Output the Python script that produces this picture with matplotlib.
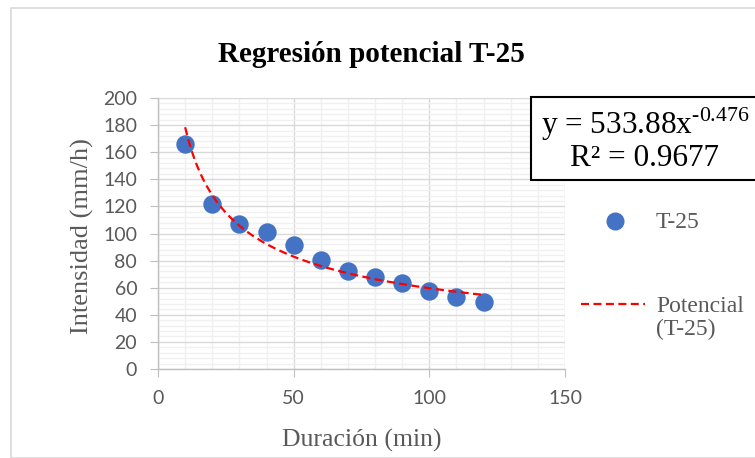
import numpy as np
import matplotlib
matplotlib.use("Agg")
import matplotlib.pyplot as plt
from matplotlib.patches import Rectangle
from matplotlib.lines import Line2D
from matplotlib.ticker import MultipleLocator

# data
duracion = [10, 20, 30, 40, 50, 60, 70, 80, 90, 100, 110, 120]
intensidad = [166.0, 121.8, 106.8, 100.8, 91.5, 80.2, 72.5, 68.1, 63.2, 57.8, 53.4, 49.4]
coef_a = 533.88
coef_b = -0.476
r2_text = "0.9677"
title = "Regresión potencial T-25"
xlabel = "Duración (min)"
ylabel = "Intensidad (mm/h)"
series_name = "T-25"
trend_name = "Potencial\n(T-25)"

plt.rcParams['mathtext.fontset'] = 'custom'
plt.rcParams['mathtext.rm'] = 'Liberation Serif'

W, H = 755, 458
fig = plt.figure(figsize=(W/100, H/100), dpi=100)

# outer chart border
fig.add_artist(Rectangle((11/W, 0), 1.0, 1 - 8/H, transform=fig.transFigure,
                         fill=False, edgecolor='#d9d9d9', linewidth=1.2))

L, R, T, B = 158, 565, 98, 369
ax = fig.add_axes([L/W, 1 - B/H, (R-L)/W, (B-T)/H])
ax.set_xlim(0, 150)
ax.set_ylim(0, 200)
ax.xaxis.set_major_locator(MultipleLocator(50))
ax.xaxis.set_minor_locator(MultipleLocator(10))
ax.yaxis.set_major_locator(MultipleLocator(20))
ax.yaxis.set_minor_locator(MultipleLocator(4))
ax.grid(which='major', color='#d9d9d9', linewidth=1.0)
ax.grid(which='minor', color='#f0f0f0', linewidth=1.0)
ax.set_axisbelow(True)
for s in ['top', 'right']:
    ax.spines[s].set_visible(False)
for s in ['left', 'bottom']:
    ax.spines[s].set_color('#bfbfbf')
    ax.spines[s].set_linewidth(1.0)
ax.tick_params(which='major', length=6, color='#bfbfbf', labelcolor='#595959',
               labelsize=14, direction='out')
ax.tick_params(which='minor', length=0)
ax.tick_params(axis='x', pad=9)
ax.tick_params(axis='y', pad=9)
for lab in ax.get_xticklabels() + ax.get_yticklabels():
    lab.set_fontfamily('Lato')

dash = (0, (3.6, 2.0))
ax.scatter(duracion, intensidad, s=150, color='#4472C4', zorder=3, clip_on=False)
xs = np.linspace(min(duracion), max(duracion), 200)
ax.plot(xs, coef_a * xs ** coef_b, color='#FF0000', linestyle=dash,
        linewidth=1.6, zorder=4)

ax.set_xlabel(xlabel, family='Liberation Serif', fontsize=18.5, color='#595959', labelpad=16)
ax.set_ylabel(ylabel, family='Liberation Serif', fontsize=19, color='#595959', labelpad=4)
ax.yaxis.set_label_coords(-0.158, 0.49)

fig.text(371/W, 1 - 55/H, title, family='Liberation Serif', fontweight='bold',
         fontsize=21, ha='center', va='center', color='black')

# equation box
fig.add_artist(Rectangle((531/W, 1 - 180/H), (760-531)/W, (180-97)/H,
                         transform=fig.transFigure, facecolor='white',
                         edgecolor='black', linewidth=1.5, zorder=5))
fig.text(541/W, 1 - 124/H, r'y = %.2fx$^{%s}$' % (coef_a, '{:.3f}'.format(coef_b).replace('-', '\u2010')),
         family='Liberation Serif', fontsize=22.5, va='center', ha='left', zorder=6)
fig.text(644/W, 1 - 158/H, 'R² = ' + r2_text, family='Liberation Serif', fontsize=22.5,
         va='center', ha='center', zorder=6)

# legend
fig.add_artist(Line2D([615/W], [1 - 221/H], marker='o', markersize=12,
                      color='#4472C4', linestyle='none', transform=fig.transFigure))
fig.text(656/W, 1 - 222/H, series_name, family='Liberation Serif', fontsize=17,
         color='#595959', va='center', ha='left')
fig.add_artist(Line2D([581/W, 645/W], [1 - 304/H, 1 - 304/H], color='#FF0000',
                      linestyle=dash, linewidth=1.6, transform=fig.transFigure))
fig.text(656/W, 1 - 318/H, trend_name, family='Liberation Serif', fontsize=17,
         color='#595959', va='center', ha='left', linespacing=1.15)

fig.savefig('out.png', dpi=100)
